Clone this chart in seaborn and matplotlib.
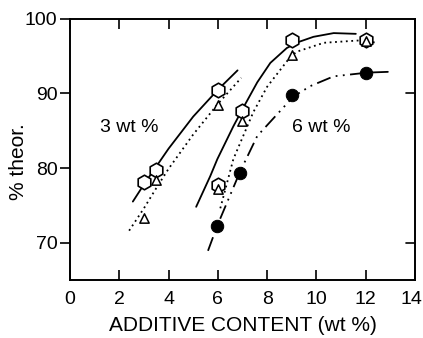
import numpy as np
import pandas as pd
import matplotlib
matplotlib.use("Agg")
import matplotlib.pyplot as plt
import matplotlib.transforms as mtransforms
import seaborn as sns

# measured points
hex_x = [3.0, 3.5, 6.0, 6.0, 7.0, 9.0, 12.0]
hex_y = [78.1, 79.7, 90.4, 77.7, 87.6, 97.2, 97.2]
tri_x = [3.0, 3.5, 6.0, 6.0, 7.0, 9.0, 12.0]
tri_y = [73.3, 78.4, 88.5, 77.2, 86.3, 95.2, 97.0]
dot_x = [5.95, 6.9, 9.0, 12.0]
dot_y = [72.2, 79.4, 89.8, 92.8]

# hand drawn curves
c3_solid_x = [2.55, 3.0, 4.0, 5.0, 6.0, 6.8]
c3_solid_y = [75.5, 77.8, 82.6, 86.9, 90.5, 93.1]
c3_dot_x = [2.4, 3.0, 3.5, 4.0, 5.0, 6.0, 6.95]
c3_dot_y = [71.6, 74.6, 77.3, 79.9, 84.5, 88.6, 92.1]
c6_solid_x = [5.12, 5.69, 5.98, 6.63, 7.0, 7.6, 8.13, 8.8, 9.27, 9.88, 10.7, 11.6]
c6_solid_y = [74.8, 78.9, 81.2, 85.6, 87.9, 91.5, 94.1, 96.1, 96.9, 97.6, 98.1, 98.0]
c6_dot_x = [6.1, 6.63, 7.44, 8.0, 8.94, 9.2, 10.3, 11.67, 12.5]
c6_dot_y = [74.6, 81.2, 87.5, 90.9, 94.9, 95.6, 96.8, 97.1, 96.8]
c6_dd_x = [5.6, 5.98, 6.9, 7.6, 9.07, 9.76, 10.7, 12.07]
c6_dd_y = [68.9, 72.3, 79.5, 84.3, 89.6, 91.0, 92.3, 92.8]
c6_tail_x = [12.07, 12.9]
c6_tail_y = [92.8, 92.9]

sns.set_style("ticks")
plt.rcParams['font.family'] = ['Liberation Sans', 'DejaVu Sans']
for k in ['text.color', 'axes.labelcolor', 'xtick.color', 'ytick.color',
          'axes.edgecolor']:
    plt.rcParams[k] = 'black'

fig = plt.figure(figsize=(4.23, 3.38), dpi=100)
ax = fig.add_axes([0.1655, 0.172, 0.8155, 0.772])

curves = [
    (c3_solid_x, c3_solid_y, '-'),
    (c3_dot_x, c3_dot_y, (0, (1, 2))),
    (c6_solid_x, c6_solid_y, '-'),
    (c6_dot_x, c6_dot_y, (0, (1, 2))),
    (c6_dd_x, c6_dd_y, (0, (8, 3, 1, 3, 1, 3))),
    (c6_tail_x, c6_tail_y, '-'),
]
for cx, cy, ls in curves:
    d = pd.DataFrame({'x': cx, 'y': cy})
    sns.lineplot(data=d, x='x', y='y', ax=ax, color='black', lw=1.3,
                 linestyle=ls, sort=False, estimator=None)

sns.scatterplot(x=hex_x, y=hex_y, ax=ax, marker='h', s=110,
                facecolor='white', edgecolor='black', linewidth=1.2, zorder=3)
sns.scatterplot(x=tri_x, y=tri_y, ax=ax, marker='^', s=45,
                facecolor='white', edgecolor='black', linewidth=1.1, zorder=4)
sns.scatterplot(x=dot_x, y=dot_y, ax=ax, marker='o', s=80,
                color='black', edgecolor='black', zorder=3)

ax.text(1.22, 85.5, '3 wt %', fontsize=14, va='center')
ax.text(9.0, 85.5, '6 wt %', fontsize=14, va='center')

ax.set_xlim(0, 14)
ax.set_ylim(65, 100)
ax.set_xticks(range(0, 15, 2))
ax.set_yticks([70, 80, 90, 100])
ax.tick_params(axis='x', direction='in', top=True, length=7, width=1.2,
               labelsize=14, pad=8)
ax.tick_params(axis='y', direction='out', length=7, width=1.2, labelsize=14,
               pad=2)
ax.tick_params(axis='y', which='both', right=False)
for yv in [70, 90]:
    ax.plot([13.65, 14], [yv, yv], color='black', lw=1.2, clip_on=False)
for s in ax.spines.values():
    s.set_linewidth(1.4)
    s.set_visible(True)

# keep the last x label inside the figure
last = ax.get_xticklabels()[-1]
last.set_transform(last.get_transform() +
                   mtransforms.ScaledTranslation(-4 / 100, 0, fig.dpi_scale_trans))

ax.set_xlabel('ADDITIVE CONTENT (wt %)', fontsize=15, labelpad=6)
ax.set_ylabel('% theor.', fontsize=15, ha='center', va='center')
ax.yaxis.set_label_coords(-0.148, 0.452)

fig.savefig('out.png', dpi=100)
